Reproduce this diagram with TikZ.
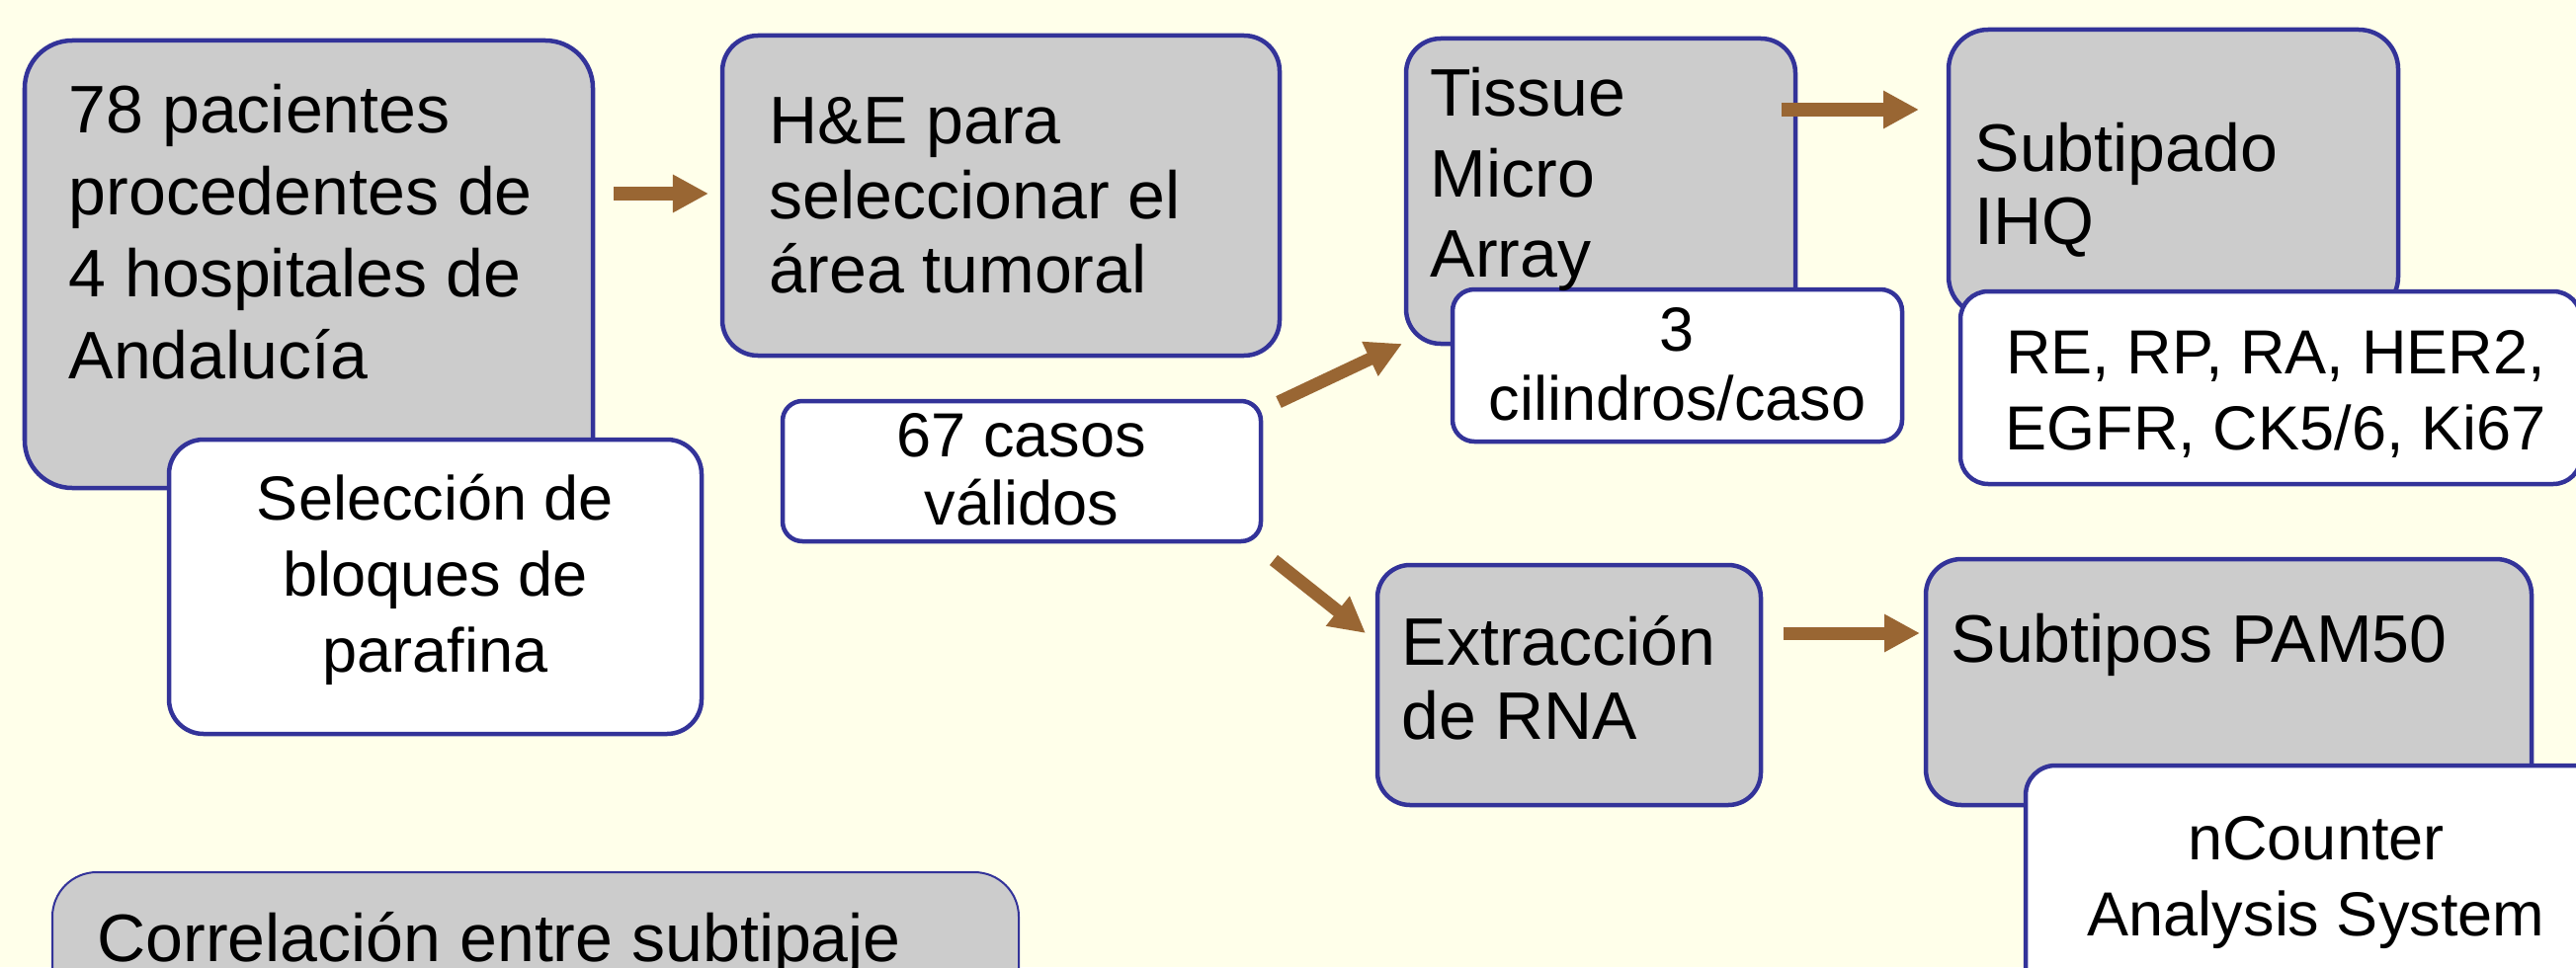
\documentclass[tikz,border=0pt]{standalone}
\usepackage{fontspec}
\setmainfont{Liberation Sans}
\usetikzlibrary{arrows.meta,fit}
\definecolor{bgyellow}{RGB}{255,255,234}
\definecolor{boxgray}{RGB}{204,204,204}
\definecolor{boxnavy}{RGB}{51,51,153}
\definecolor{arrbrown}{RGB}{153,102,51}
\tikzset{
  gbox/.style={draw=boxnavy, fill=boxgray, line width=0.045cm, inner sep=0pt, rounded corners=#1},
  gbox/.default=0.35cm,
  wbox/.style={draw=boxnavy, fill=white, line width=0.045cm, inner sep=0pt, rounded corners=#1},
  wbox/.default=0.25cm,
  ltxt/.style={anchor=base west, inner sep=0pt, font=\fontsize{19.35pt}{#1}\selectfont},
  ctxt/.style={anchor=base, inner sep=0pt, font=\fontsize{17.93pt}{#1}\selectfont},
  arr/.style={draw=arrbrown, line width=0.13cm, -{Triangle[length=0.36cm,width=0.36cm]}}
}
\begin{document}
\begin{tikzpicture}[x=0.01cm,y=-0.01cm]
\fill[bgyellow] (0,0) rectangle (2607,979);
\useasboundingbox (0,0) rectangle (2607,979);
\clip (0,0) rectangle (2607,979);

% boxes
\node[gbox=0.48cm, fit={(25,41) (600,494)}] (pac) {};
\node[wbox=0.35cm, fit={(171,445) (710,743)}] (sel) {};
\node[gbox=0.36cm, fit={(731,36) (1295,360)}] (he) {};
\node[wbox=0.2cm, fit={(792,406) (1276,548)}] (val) {};
\node[gbox=0.35cm, fit={(1423,39) (1817,348)}] (tma) {};
\node[wbox=0.22cm, fit={(1470,293) (1925,447)}] (cil) {};
\node[gbox=0.4cm, fit={(1972,30) (2427,320)}] (sub) {};
\node[wbox=0.28cm, fit={(1984,295) (2612,490)}] (ihq) {};
\node[gbox=0.33cm, fit={(1394,572) (1782,815)}] (rna) {};
\node[gbox=0.36cm, fit={(1949,566) (2562,815)}] (pam) {};
\node[wbox=0.3cm, fit={(2050,775) (2640,1040)}] (nco) {};
\node[gbox=0.45cm, line width=0.02cm, fit={(53,883) (1031,1100)}] (cor) {};

% texts
\node[ltxt=23.6pt] (pact) at (69,135) {\parbox[t]{8cm}{\raggedright 78 pacientes\\procedentes de\\4 hospitales de\\Andalucía}};
\node[ctxt=21.91pt] (selt) at (440.5,526) {\parbox[t]{5.39cm}{\centering Selección de\\bloques de\\parafina}};
\node[ltxt=21.34pt] (het) at (778,146) {\parbox[t]{8cm}{\raggedright H\&E para\\seleccionar el\\área tumoral}};
\node[ctxt=19.63pt] (valt) at (1034,462) {\parbox[t]{4.84cm}{\centering 67 casos\\válidos}};
\node[ltxt=23.05pt] (tmat) at (1447,118) {\parbox[t]{8cm}{\raggedright Tissue\\Micro\\Array}};
\node[ctxt=19.92pt] (cilt) at (1697.5,355) {\parbox[t]{4.55cm}{\centering 3\\cilindros/caso}};
\node[ltxt=21.06pt] (subt) at (1998,173) {\parbox[t]{8cm}{\raggedright Subtipado\\IHQ}};
\node[ctxt=21.91pt] (ihqt) at (2303,378) {\parbox[t]{6.28cm}{\centering RE, RP, RA, HER2,\\EGFR, CK5/6, Ki67}};
\node[ltxt=21.34pt] (rnat) at (1418,673) {\parbox[t]{8cm}{\raggedright Extracción\\de RNA}};
\node[ltxt=21.34pt] (pamt) at (1974,670) {\parbox[t]{8cm}{\raggedright Subtipos PAM50}};
\node[ctxt=21.91pt] (ncot) at (2344,870) {\parbox[t]{5.9cm}{\centering nCounter\\Analysis System}};
\node[ltxt=23.6pt] (cort) at (98,973) {\parbox[t]{10cm}{\raggedright Correlación entre subtipaje}};

% arrows
\coordinate (a1s) at (621,196);  \coordinate (a1e) at (717,196);
\coordinate (a2s) at (1294,407); \coordinate (a2e) at (1419,348);
\coordinate (a3s) at (1289,567); \coordinate (a3e) at (1382,641);
\coordinate (a4s) at (1803,111); \coordinate (a4e) at (1942,111);
\coordinate (a5s) at (1805,641); \coordinate (a5e) at (1943,641);
\draw[arr] (a1s) -- (a1e);
\draw[arr] (a2s) -- (a2e);
\draw[arr] (a3s) -- (a3e);
\draw[arr] (a4s) -- (a4e);
\draw[arr] (a5s) -- (a5e);
\end{tikzpicture}
\end{document}
